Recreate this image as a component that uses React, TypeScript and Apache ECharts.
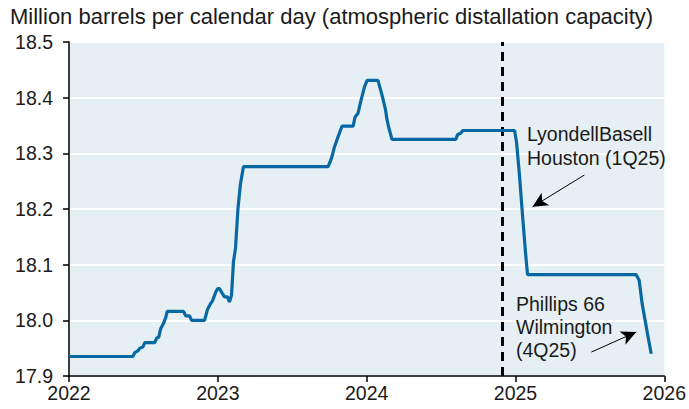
import React, { useEffect, useRef } from "react";
import * as echarts from "echarts";

// Decimal-year positions and capacity values (million b/cd)
const years: number[] = [
  2022.0, 2022.429, 2022.442, 2022.462, 2022.476, 2022.496, 2022.509, 2022.576, 2022.589, 2022.603,
  2022.616, 2022.636, 2022.65, 2022.66, 2022.77, 2022.784, 2022.81, 2022.824, 2022.911, 2022.931,
  2022.951, 2022.964, 2022.985, 2022.998, 2023.011, 2023.031, 2023.045, 2023.065, 2023.078, 2023.092,
  2023.105, 2023.119, 2023.135, 2023.152, 2023.172, 2023.741, 2023.755, 2023.768, 2023.782, 2023.795,
  2023.808, 2023.835, 2023.909, 2023.922, 2023.942, 2023.962, 2023.986, 2024.003, 2024.076, 2024.103,
  2024.127, 2024.137, 2024.15, 2024.17, 2024.599, 2024.612, 2024.632, 2024.646, 2024.994, 2025.007,
  2025.027, 2025.047, 2025.068, 2025.081, 2025.811, 2025.831, 2025.851, 2025.871, 2025.891, 2025.912,
];
const capacity: number[] = [
  17.935, 17.935, 17.942, 17.945, 17.95, 17.952, 17.96, 17.96, 17.968, 17.97,
  17.985, 17.995, 18.005, 18.016, 18.016, 18.008, 18.008, 18.0, 18.0, 18.02,
  18.03, 18.035, 18.05, 18.057, 18.057, 18.048, 18.042, 18.042, 18.033, 18.045,
  18.105, 18.13, 18.2, 18.245, 18.276, 18.276, 18.285, 18.295, 18.31, 18.32,
  18.33, 18.349, 18.349, 18.365, 18.372, 18.395, 18.42, 18.431, 18.431, 18.405,
  18.378, 18.36, 18.345, 18.325, 18.325, 18.334, 18.336, 18.341, 18.341, 18.32,
  18.26, 18.19, 18.12, 18.082, 18.082, 18.072, 18.03, 18.0, 17.97, 17.94,
];
const xTicks: number[] = [2022, 2023, 2024, 2025, 2026];
const yTicks: number[] = [17.9, 18.0, 18.1, 18.2, 18.3, 18.4, 18.5];
const todayMarker = 2024.914;
const subtitle = "Million barrels per calendar day (atmospheric distallation capacity)";
const noteLyondell = "LyondellBasell\nHouston (1Q25)";
const notePhillips = "Phillips 66\nWilmington\n(4Q25)";

const FONT = "'Liberation Sans', Arial, sans-serif";

export default function App() {
  const ref = useRef<HTMLDivElement>(null);
  useEffect(() => {
    if (!ref.current) return;
    const chart = echarts.init(ref.current, undefined, { renderer: "svg" });
    const data = years.map((y, i) => [y, capacity[i]]);
    chart.setOption({
      animation: false,
      textStyle: { fontFamily: FONT },
      grid: {
        left: 69,
        right: 23,
        top: 42,
        bottom: 33,
        show: true,
        backgroundColor: "#e6eff3",
        borderWidth: 0,
      },
      xAxis: {
        type: "value",
        min: xTicks[0],
        max: xTicks[xTicks.length - 1],
        interval: 1,
        axisLine: { show: true, lineStyle: { color: "#000", width: 1.5 } },
        axisTick: { show: true, length: 6, lineStyle: { color: "#000", width: 1.5 } },
        axisLabel: {
          color: "#1a1a1a",
          fontSize: 19.5,
          fontFamily: FONT,
          margin: 7,
          formatter: (v: number) => String(Math.round(v)),
        },
        splitLine: { show: false },
      },
      yAxis: {
        type: "value",
        min: yTicks[0],
        max: yTicks[yTicks.length - 1],
        interval: 0.1,
        axisLine: { show: true, lineStyle: { color: "#000", width: 1.5 } },
        axisTick: { show: true, length: 6, lineStyle: { color: "#000", width: 1.5 } },
        axisLabel: {
          color: "#1a1a1a",
          fontSize: 19.5,
          fontFamily: FONT,
          margin: 16,
          formatter: (v: number) => v.toFixed(1),
        },
        splitLine: { show: true, lineStyle: { color: "#ffffff", width: 2 } },
      },
      series: [
        {
          type: "line",
          data,
          showSymbol: false,
          symbol: "none",
          lineStyle: { color: "#0768a4", width: 3.2 },
          z: 3,
          markLine: {
            silent: true,
            symbol: ["none", "none"],
            label: { show: false },
            lineStyle: { color: "#000", width: 3, type: [9, 6] },
            data: [{ xAxis: todayMarker }],
            z: 2,
          },
        },
        {
          type: "line",
          data: [],
          markLine: {
            silent: true,
            symbol: ["none", "arrow"],
            symbolSize: [11, 15],
            label: { show: false },
            lineStyle: { color: "#000", width: 1, type: "solid" },
            data: [
              [{ coord: [2025.463, 18.261] }, { coord: [2025.115, 18.204] }],
              [{ coord: [2025.51, 17.943] }, { coord: [2025.811, 17.979] }],
            ],
          },
        },
      ],
      graphic: [
        {
          type: "text",
          left: 10,
          top: 5,
          z: 100,
          style: { text: subtitle, fontSize: 22, fontFamily: FONT, fill: "#1a1a1a" },
        },
        {
          type: "text",
          x: 527,
          y: 122,
          z: 100,
          style: { text: noteLyondell, fontSize: 19.5, lineHeight: 24, fontFamily: FONT, fill: "#1a1a1a", textVerticalAlign: "top" },
        },
        {
          type: "text",
          x: 516,
          y: 292,
          z: 100,
          style: { text: notePhillips, fontSize: 19.5, lineHeight: 23, fontFamily: FONT, fill: "#1a1a1a", textVerticalAlign: "top" },
        },
      ],
    });
    return () => chart.dispose();
  }, []);
  return (
    <div
      ref={ref}
      style={{ position: "fixed", left: 0, top: 0, width: 689, height: 409, background: "#fff" }}
    />
  );
}
